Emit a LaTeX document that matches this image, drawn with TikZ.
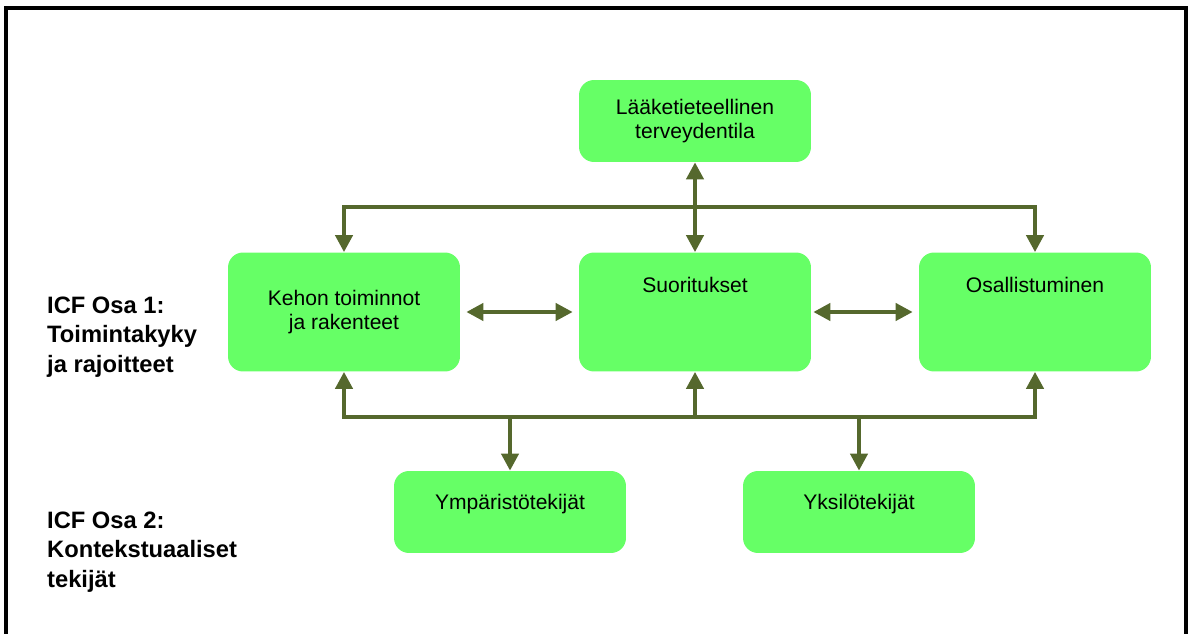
\documentclass[tikz,border=0pt]{standalone}
\usepackage{fontspec}
\setmainfont{Liberation Sans}
\usepackage{tikz}
\usetikzlibrary{arrows.meta, positioning}
\definecolor{vihrea}{RGB}{102, 255, 102}
\definecolor{oliivi}{RGB}{85, 104, 45}

\tikzset{
  laatikko/.style={rectangle, rounded corners=0.3cm, fill=vihrea, minimum width=4.64cm,
    align=center, font=\fontsize{12}{14}\selectfont},
  yhteys/.style={draw=oliivi, line width=2.3pt},
  nuoli/.style={yhteys, -{Triangle[length=0.34cm, width=0.34cm]}},
  kaksinuoli/.style={yhteys, {Triangle[length=0.34cm, width=0.34cm]}-{Triangle[length=0.34cm, width=0.34cm]}},
  otsikko/.style={anchor=west, align=left, font=\bfseries\fontsize{13.5}{16.7}\selectfont}
}

\begin{document}
\begin{tikzpicture}[x=0.02cm, y=-0.02cm]
    \useasboundingbox (0,0) rectangle (1192,634);
    % kehys
    \draw[line width=1.8pt] (6,8) rectangle (1186,660);

    % laatikot
    \node[laatikko, minimum height=1.64cm] (laake) at (695,121) {Lääketieteellinen\\terveydentila};
    \node[laatikko, minimum height=2.38cm] (kehon) at (344,312) {Kehon toiminnot\\ja rakenteet};
    \node[laatikko, inner ysep=0pt, text height=0.79cm, text depth=1.59cm] (suor) at (695,312) {Suoritukset};
    \node[laatikko, inner ysep=0pt, text height=0.79cm, text depth=1.59cm] (osal) at (1035,312) {Osallistuminen};
    \node[laatikko, inner ysep=0pt, text height=0.77cm, text depth=0.87cm] (ymp) at (510,512) {Ympäristötekijät};
    \node[laatikko, inner ysep=0pt, text height=0.77cm, text depth=0.87cm] (yks) at (859,512) {Yksilötekijät};

    % otsikot vasemmalla
    \node[otsikko] (osa1) at (41,337) {ICF Osa 1:\\Toimintakyky\\ja rajoitteet};
    \node[otsikko] (osa2) at (41,552) {ICF Osa 2:\\Kontekstuaaliset\\tekijät};

    % kiskot
    \coordinate (yla) at (695,207);
    \coordinate (ala) at (695,417);

    % ylempi kisko
    \draw[kaksinuoli] (kehon.north) |- (yla) -| (osal.north);
    \draw[kaksinuoli] (laake.south) -- (suor.north);

    % alempi kisko
    \draw[kaksinuoli] (kehon.south) |- (ala) -| (osal.south);
    \draw[nuoli] (ala) -- (suor.south);
    \draw[nuoli] (ymp.north |- ala) -- (ymp.north);
    \draw[nuoli] (yks.north |- ala) -- (yks.north);

    % vaakanuolet
    \draw[kaksinuoli, shorten <=0.12cm, shorten >=0.12cm] (kehon.east) -- (suor.west);
    \draw[kaksinuoli, shorten <=0.04cm, shorten >=0.12cm] (suor.east) -- (osal.west);
\end{tikzpicture}
\end{document}
